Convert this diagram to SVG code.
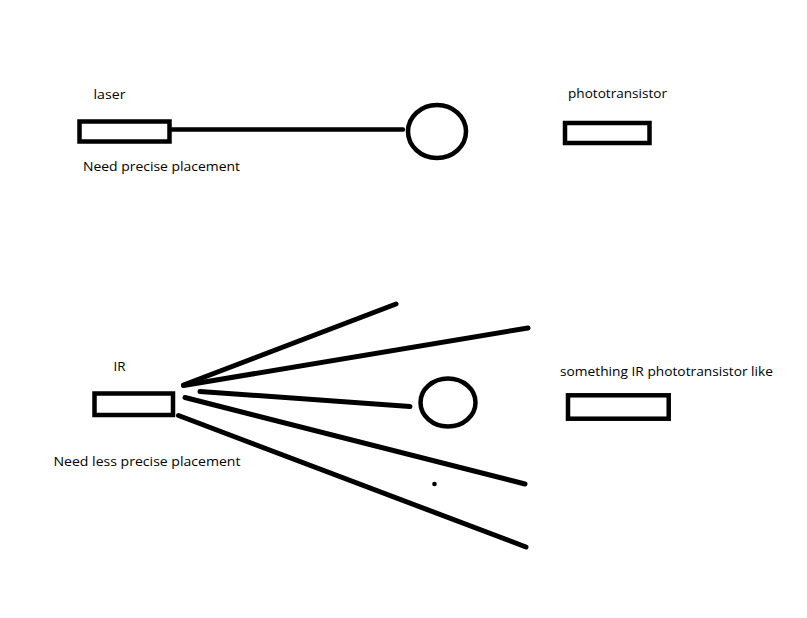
<svg xmlns="http://www.w3.org/2000/svg" width="807" height="618" viewBox="0 0 807 618">
<style>
.box{fill:#fff;stroke:#000;stroke-width:4.5}
.ring{fill:none;stroke:#000;stroke-width:4.5}
.ln{stroke:#000;stroke-width:4.5;stroke-linecap:round;fill:none}
.ray{stroke:#000;stroke-width:5;stroke-linecap:round;fill:none}
.t{font-family:"Open Sans","Noto Sans","DejaVu Sans",sans-serif;font-size:13px;fill:#000}
</style>
<rect width="807" height="618" fill="#fff"/>
<g id="connectors">
<line class="ln" x1="171" y1="129.5" x2="403" y2="129.5"/>
<line class="ray" x1="183.5" y1="385" x2="396" y2="304"/>
<line class="ray" x1="183.5" y1="385.5" x2="528" y2="328"/>
<line class="ray" x1="200" y1="391.5" x2="410" y2="406.5"/>
<line class="ray" x1="185" y1="397.5" x2="525" y2="484"/>
<line class="ray" x1="178.5" y1="415.5" x2="526" y2="547"/>
</g>
<g id="laser">
<rect class="box" x="79.5" y="121.5" width="90" height="20"/>
<text class="t" x="93.5" y="99" textLength="32" lengthAdjust="spacingAndGlyphs">laser</text>
<text class="t" x="83" y="171" textLength="157" lengthAdjust="spacingAndGlyphs">Need precise placement</text>
</g>
<g id="obstacle1">
<ellipse class="ring" cx="437" cy="131.5" rx="29" ry="26.5"/>
</g>
<g id="phototransistor">
<rect class="box" x="565" y="123" width="84.5" height="20"/>
<text class="t" x="568" y="98" textLength="99" lengthAdjust="spacingAndGlyphs">phototransistor</text>
</g>
<g id="ir">
<rect class="box" x="94.5" y="393.5" width="78.5" height="21.5"/>
<text class="t" x="113.5" y="371" textLength="12" lengthAdjust="spacingAndGlyphs">IR</text>
<text class="t" x="53.5" y="466" textLength="187" lengthAdjust="spacingAndGlyphs">Need less precise placement</text>
</g>
<g id="obstacle2">
<ellipse class="ring" cx="448" cy="402.5" rx="27.5" ry="24"/>
</g>
<g id="dot">
<circle cx="434.5" cy="484" r="2.3" fill="#000"/>
</g>
<g id="ir-receiver">
<rect class="box" x="568" y="395.3" width="100.7" height="23.4"/>
<text class="t" x="560" y="376" textLength="213" lengthAdjust="spacingAndGlyphs">something IR phototransistor like</text>
</g>
</svg>
